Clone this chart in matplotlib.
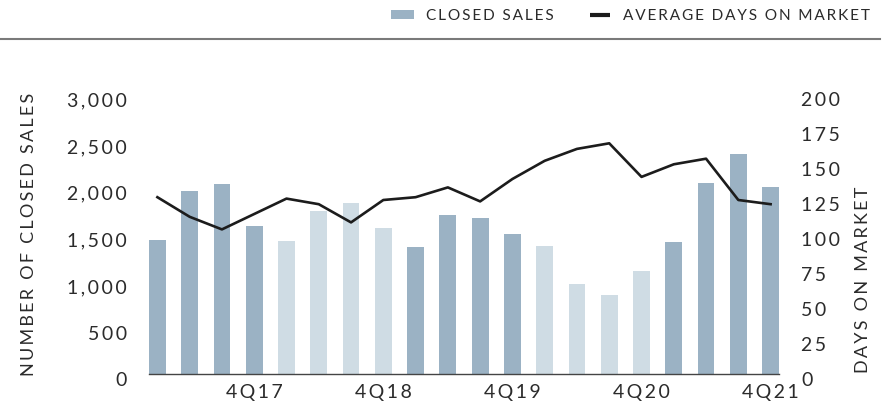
import numpy as np
import matplotlib
matplotlib.use("Agg")
import matplotlib.pyplot as plt
import matplotlib.transforms as mtransforms
from matplotlib.patches import Patch
from matplotlib.lines import Line2D

plt.rcParams['font.family'] = ['Lato', 'DejaVu Sans']

# quarterly data 1Q17 .. 4Q21
quarters = [f"{q}Q{y}" for y in range(17, 22) for q in range(1, 5)]
closed_sales = [1440, 1965, 2040, 1590, 1430, 1750, 1835, 1570,
                1365, 1705, 1675, 1505, 1375, 970, 850, 1105,
                1420, 2050, 2360, 2005]
days_on_market = [126.5, 112.5, 103.5, 114.5, 125.5, 121.5, 108.5, 124.5,
                  126.5, 133.5, 123.5, 139.5, 152.5, 161, 165, 141,
                  150, 154, 124.5, 121.5]
tick_labels = ["4Q17", "4Q18", "4Q19", "4Q20", "4Q21"]

dark = "#9bb2c4"
light = "#cfdce4"
text_col = "#2b2b2b"


def track(s):
    # the original text is letter-spaced; fake it with thin spaces
    return "\u2009".join(s)


W, H = 891, 403
fig = plt.figure(figsize=(W / 100, H / 100), dpi=100)
ax = fig.add_axes([149 / W, 1 - 374.3 / H, 630 / W, 280 / H])

x = np.arange(len(quarters))
colors = [dark if (i // 4) % 2 == 0 else light for i in range(len(quarters))]
ax.bar(x, closed_sales, width=0.52, color=colors, zorder=2)
ax.set_xlim(-0.26, len(quarters) - 0.74)
ax.set_ylim(0, 3000)
ax.set_yticks(np.arange(0, 3001, 500))
ax.set_yticklabels([track(f"{v:,}") for v in range(0, 3001, 500)])
ax.set_xticks([quarters.index(t) for t in tick_labels])
ax.set_xticklabels([track(t) for t in tick_labels])

ax2 = ax.twinx()
ax2.plot(x, days_on_market, color="#1c1c1c", lw=1.9, zorder=3)
ax2.set_ylim(0, 200)
ax2.set_yticks(np.arange(0, 201, 25))
ax2.set_yticklabels([track(str(v)) for v in range(0, 201, 25)])

for a in (ax, ax2):
    for s in ("top", "right", "left"):
        a.spines[s].set_visible(False)
    a.tick_params(length=0, labelsize=14, labelcolor=text_col)
ax2.spines["bottom"].set_visible(False)
ax.spines["bottom"].set_color("#444444")
ax.spines["bottom"].set_linewidth(1.0)
ax.tick_params(axis="y", pad=16)
ax2.tick_params(axis="y", pad=16)
ax.tick_params(axis="x", pad=7)

# tick labels sit a bit below their value in the original
off = mtransforms.ScaledTranslation(0, -5 / 100, fig.dpi_scale_trans)
for lab in ax.get_yticklabels() + ax2.get_yticklabels():
    lab.set_transform(lab.get_transform() + off)

fig.text(29 / W, 1 - 234 / H, track("NUMBER OF CLOSED SALES"), rotation=90,
         ha="center", va="center", fontsize=13, color=text_col)
fig.text(863 / W, 1 - 373 / H, track("DAYS ON MARKET"), rotation=90,
         ha="center", va="bottom", fontsize=13, color=text_col)

handles = [Patch(facecolor=dark, edgecolor="none"),
           Line2D([], [], color="#1c1c1c", ls="none", marker="_",
                  markersize=15, markeredgewidth=3)]
fig.legend(handles, [track("CLOSED SALES"), track("AVERAGE DAYS ON MARKET")],
           ncol=2, loc="upper right", bbox_to_anchor=(884 / W, 1.012),
           frameon=False, fontsize=11.1, labelcolor=text_col, handlelength=1.55,
           handleheight=0.55, handletextpad=0.75, columnspacing=2.2)

fig.add_artist(Line2D([0, 880 / W], [1 - 38.5 / H] * 2, color="#7a7a7a",
                      lw=1.5, transform=fig.transFigure))

fig.savefig("out.png", dpi=100)
